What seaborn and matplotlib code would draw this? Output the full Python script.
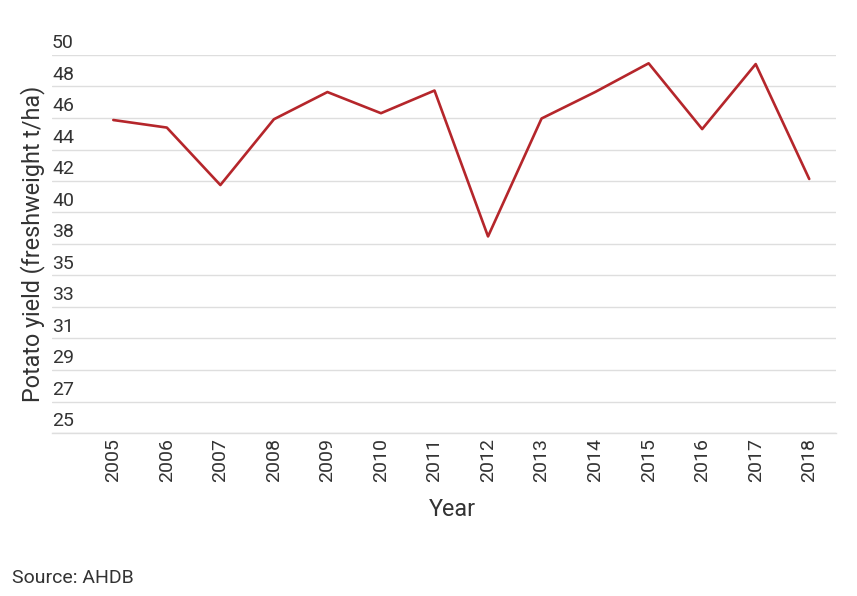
import matplotlib
matplotlib.use("Agg")
import matplotlib.pyplot as plt
import matplotlib.transforms as mtransforms
import seaborn as sns
import pandas as pd
import numpy as np

years = [2005, 2006, 2007, 2008, 2009, 2010, 2011, 2012, 2013, 2014, 2015, 2016, 2017, 2018]
yield_t_ha = [45.7, 45.2, 41.4, 45.75, 47.55, 46.15, 47.65, 38.0, 45.8, 47.55, 49.45, 45.1, 49.4, 41.8]
y_ticks = list(np.linspace(25, 50, 13))
y_tick_labels = ["25", "27", "29", "31", "33", "35", "38", "40", "42", "44", "46", "48", "50"]

df = pd.DataFrame({"Year": years, "Yield": yield_t_ha})

sns.set_theme(style="white")
plt.rcParams["font.family"] = ["Roboto", "DejaVu Sans"]

W, H = 857, 596
fig = plt.figure(figsize=(W / 100, H / 100), dpi=100)
left, right, top, bottom = 52, 836, 55, 433
ax = fig.add_axes([left / W, 1 - bottom / H, (right - left) / W, (bottom - top) / H])

sns.lineplot(data=df, x="Year", y="Yield", ax=ax, color="#b5262b", linewidth=1.9)

ax.set_xlim(2005 - 1.145, 2018.5)
ax.set_ylim(25, 50)
ax.set_yticks(y_ticks)
ax.set_yticklabels(y_tick_labels)
ax.set_xticks(years)
ax.set_xticklabels([str(y) for y in years], rotation=90)

ax.grid(axis="y", color="#dedede", linewidth=1.0)
ax.grid(axis="x", visible=False)
ax.set_axisbelow(True)
for s in ["top", "right", "left"]:
    ax.spines[s].set_visible(False)
ax.spines["bottom"].set_color("#dedede")
ax.spines["bottom"].set_linewidth(1.0)

ax.tick_params(axis="y", length=0, pad=0, labelsize=14, labelcolor="#333333")
ax.tick_params(axis="x", length=0, pad=3.5, labelsize=14, labelcolor="#333333")
offset = mtransforms.ScaledTranslation(0, 2.0 / 72, fig.dpi_scale_trans)
for lab in ax.get_yticklabels():
    lab.set_horizontalalignment("left")
    lab.set_verticalalignment("bottom")
    lab.set_transform(lab.get_transform() + offset)

ax.set_ylabel("Potato yield (freshweight t/ha)", fontsize=16.8, color="#333333")
ax.yaxis.set_label_coords((33 - left) / (right - left), 0.5)
ax.yaxis.label.set_verticalalignment("center")
ax.set_xlabel("Year", fontsize=16.8, color="#333333")
ax.xaxis.set_label_coords((452 - left) / (right - left), -(509 - bottom) / (bottom - top))
ax.xaxis.label.set_verticalalignment("center")

fig.text(12 / W, 1 - 578 / H, "Source: AHDB", fontsize=14, color="#333333", ha="left", va="center")

fig.savefig("out.png", dpi=100, facecolor="white")
